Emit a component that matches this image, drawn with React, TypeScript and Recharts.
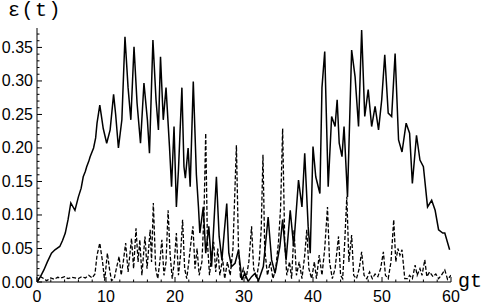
import React from 'react';
import { LineChart, Line, XAxis, YAxis } from 'recharts';

// solid curve: time / value
const solidT = [
  0, 0.5, 1.0, 1.5, 2.1, 2.6, 3.3, 3.7, 4.1, 4.5,
  4.9, 5.5, 6.0, 6.4, 6.7, 7.0, 7.2, 7.5, 7.7, 8.2,
  8.5, 8.7, 9.1, 9.3, 9.6, 10.1, 10.6, 11.1, 11.4, 11.8,
  12.3, 12.75, 13.2, 13.6, 14.06, 14.5, 15.0, 15.5, 16.0, 16.3,
  16.8, 17.25, 17.6, 17.9, 18.3, 18.7, 19.2, 19.5, 19.86, 20.2,
  20.5, 21.0, 21.3, 21.5, 21.9, 22.2, 22.65, 23.1, 23.4, 23.6,
  24.1, 24.45, 24.9, 25.3, 25.6, 26.0, 26.4, 26.8, 27.1, 27.5,
  27.8, 28.2, 28.7, 29.2, 29.7, 30.1, 30.6, 31.1, 31.6, 32.1,
  32.8, 33.5, 34.0, 34.5, 35.2, 35.6, 36.1, 36.7, 37.2, 37.9,
  38.4, 38.8, 39.3, 39.6, 40.0, 40.4, 41.0, 41.3, 41.7, 42.2,
  42.7, 43.2, 43.5, 43.8, 44.2, 44.5, 45.0, 45.6, 46.1, 46.6,
  47.05, 47.5, 48.0, 48.5, 49.0, 49.5, 49.96, 50.4, 50.9, 51.4,
  51.9, 52.4, 52.9, 53.5, 54.0, 54.4, 55.0, 55.5, 56.0, 56.6,
  57.2, 57.7, 58.2, 58.8, 59.1, 59.8,
];
const solidV = [
  0, 0.008, 0.018, 0.03, 0.043, 0.048, 0.053, 0.062, 0.073, 0.093,
  0.118, 0.107, 0.127, 0.14, 0.157, 0.165, 0.172, 0.18, 0.187, 0.2,
  0.215, 0.237, 0.264, 0.25, 0.229, 0.207, 0.227, 0.28, 0.25, 0.2,
  0.242, 0.366, 0.29, 0.242, 0.351, 0.267, 0.207, 0.297, 0.242, 0.192,
  0.361, 0.272, 0.227, 0.336, 0.242, 0.29, 0.202, 0.142, 0.232, 0.112,
  0.167, 0.29, 0.172, 0.155, 0.2, 0.142, 0.299, 0.16, 0.112, 0.073,
  0.112, 0.043, 0.083, 0.023, 0.08, 0.157, 0.068, 0.033, 0.07, 0.117,
  0.043, 0.023, 0.028, 0.048, 0.003, 0.013, 0.001, 0.008, 0.013, 0.002,
  0.023, 0.097, 0.033, 0.013, 0.053, 0.093, 0.033, 0.107, 0.053, 0.152,
  0.112, 0.192, 0.083, 0.043, 0.202, 0.157, 0.132, 0.29, 0.344, 0.142,
  0.247, 0.232, 0.272, 0.207, 0.187, 0.232, 0.127, 0.346, 0.306, 0.232,
  0.376, 0.247, 0.287, 0.232, 0.262, 0.227, 0.272, 0.339, 0.252, 0.247,
  0.341, 0.212, 0.194, 0.237, 0.222, 0.147, 0.219, 0.182, 0.172, 0.112,
  0.122, 0.107, 0.078, 0.073, 0.073, 0.048,
];

// dashed curve: time / value
const dashT = [
  0, 0.5, 1.0, 1.4, 2.0, 2.5, 3.0, 3.5, 4.0, 4.5,
  5.0, 5.5, 6.0, 6.5, 7.0, 7.5, 8.0, 8.4, 8.7, 9.1,
  9.5, 9.8, 10.2, 10.5, 10.8, 11.2, 11.5, 11.9, 12.2, 12.5,
  12.85, 13.2, 13.7, 14.0, 14.35, 14.65, 14.9, 15.2, 15.65, 15.95,
  16.4, 16.6, 16.86, 17.2, 17.5, 17.8, 18.1, 18.4, 18.7, 19.0,
  19.3, 19.6, 19.9, 20.2, 20.5, 20.8, 21.1, 21.4, 21.7, 22.0,
  22.3, 22.6, 22.9, 23.2, 23.5, 23.9, 24.2, 24.45, 24.7, 25.0,
  25.3, 25.6, 25.9, 26.2, 26.5, 26.9, 27.2, 27.6, 28.0, 28.4,
  28.9, 29.2, 29.5, 29.9, 30.3, 30.7, 31.1, 31.4, 31.8, 32.2,
  32.5, 32.75, 33.0, 33.4, 33.8, 34.2, 34.6, 35.0, 35.3, 35.6,
  35.9, 36.2, 36.6, 36.9, 37.25, 37.6, 38.0, 38.4, 38.8, 39.1,
  39.4, 39.8, 40.2, 40.5, 40.9, 41.3, 41.7, 42.1, 42.4, 42.8,
  43.2, 43.7, 44.0, 44.3, 44.6, 44.9, 45.2, 45.6, 45.9, 46.3,
  46.7, 47.05, 47.4, 47.8, 48.2, 48.6, 49.0, 49.4, 49.8, 50.2,
  50.5, 50.9, 51.3, 51.7, 52.0, 52.3, 52.6, 52.9, 53.3, 53.7,
  54.0, 54.4, 54.8, 55.1, 55.5, 55.8, 56.2, 56.5, 56.9, 57.4,
  57.8, 58.2, 58.6, 59.1, 59.5, 60,
];
const dashV = [
  0, 0.008, 0.005, 0.002, 0.006, 0.004, 0.007, 0.006, 0.008, 0.005,
  0.007, 0.006, 0.005, 0.008, 0.006, 0.01, 0.006, 0.012, 0.04, 0.058,
  0.03, 0.002, 0.043, 0.02, 0.002, 0.005, 0.02, 0.038, 0.01, 0.03,
  0.058, 0.015, 0.065, 0.02, 0.08, 0.03, 0.063, 0.01, 0.068, 0.02,
  0.078, 0.03, 0.118, 0.02, 0.005, 0.03, 0.063, 0.01, 0.03, 0.107,
  0.04, 0.005, 0.03, 0.073, 0.01, 0.04, 0.093, 0.02, 0.005, 0.03,
  0.058, 0.083, 0.02, 0.05, 0.01, 0.03, 0.1, 0.222, 0.06, 0.01,
  0.04, 0.06, 0.015, 0.05, 0.01, 0.035, 0.005, 0.03, 0.01, 0.05,
  0.204, 0.05, 0.005, 0.02, 0.005, 0.03, 0.083, 0.02, 0.005, 0.03,
  0.08, 0.19, 0.05, 0.01, 0.03, 0.005, 0.02, 0.06, 0.11, 0.229,
  0.06, 0.01, 0.03, 0.005, 0.078, 0.01, 0.03, 0.005, 0.04, 0.078,
  0.02, 0.005, 0.03, 0.005, 0.04, 0.01, 0.05, 0.112, 0.03, 0.005,
  0.02, 0.068, 0.01, 0.005, 0.06, 0.127, 0.03, 0.07, 0.01, 0.005,
  0.02, 0.045, 0.01, 0.005, 0.015, 0.005, 0.012, 0.008, 0.02, 0.045,
  0.01, 0.005, 0.03, 0.093, 0.03, 0.05, 0.04, 0.048, 0.005, 0.005,
  0.01, 0.005, 0.025, 0.01, 0.02, 0.01, 0.033, 0.008, 0.015, 0.008,
  0.012, 0.005, 0.01, 0.018, 0.004, 0.01,
];

const xTicks = [0, 2, 4, 6, 8, 10, 12, 14, 16, 18, 20, 22, 24, 26, 28, 30, 32, 34, 36, 38, 40, 42, 44, 46, 48, 50, 52, 54, 56, 58, 60];
const yTicks = [
  0, 0.01, 0.02, 0.03, 0.04, 0.05, 0.06, 0.07, 0.08, 0.09,
  0.1, 0.11, 0.12, 0.13, 0.14, 0.15, 0.16, 0.17, 0.18, 0.19,
  0.2, 0.21, 0.22, 0.23, 0.24, 0.25, 0.26, 0.27, 0.28, 0.29,
  0.3, 0.31, 0.32, 0.33, 0.34, 0.35, 0.36, 0.37,
];

const solidData = solidT.map((t, i) => ({ t, v: solidV[i] }));
const dashData = dashT.map((t, i) => ({ t, v: dashV[i] }));

const FONT = '"Liberation Sans", Arial, sans-serif';
const MONO = '"Liberation Mono", "Courier New", monospace';

const isMajor = (v: number, step: number) => Math.abs(v / step - Math.round(v / step)) < 1e-6;

const YTick = (props: any) => {
  const { x, y, payload } = props;
  const axisX = x + 4;
  const major = isMajor(payload.value, 0.05);
  return (
    <g>
      <line x1={axisX} x2={axisX + (major ? 5 : 2.5)} y1={y} y2={y} stroke="#000" strokeWidth={1} />
      {major && (
        <text x={x} y={y} dy={5.5} textAnchor="end" fontFamily={FONT} fontSize={16} fill="#000">
          {payload.value.toFixed(2)}
        </text>
      )}
    </g>
  );
};

const XTick = (props: any) => {
  const { x, y, payload } = props;
  const axisY = y - 8;
  const major = isMajor(payload.value, 10);
  return (
    <g>
      <line x1={x} x2={x} y1={axisY} y2={axisY - (major ? 5 : 2.5)} stroke="#000" strokeWidth={1} />
      {major && (
        <text x={x} y={y} dy={12} textAnchor="middle" fontFamily={FONT} fontSize={16} fill="#000">
          {payload.value}
        </text>
      )}
    </g>
  );
};

const App = () => {
  return (
    <div style={{ position: 'absolute', left: 0, top: 0, width: 487, height: 306, background: '#fff' }}>
      <LineChart width={487} height={306} margin={{ top: 28, right: 36, bottom: 23, left: 36 }}>
        <XAxis
          type="number"
          dataKey="t"
          domain={[0, 60]}
          ticks={xTicks}
          interval={0}
          height={1}
          tickSize={0}
          tickMargin={8}
          tick={<XTick />}
          axisLine={{ stroke: '#000', strokeWidth: 1 }}
          allowDataOverflow
          label={({ viewBox }: any) => (
            <text x={viewBox.x + viewBox.width + 7} y={viewBox.y + 5} fontFamily={MONO} fontSize={20} fill="#000">
              gt
            </text>
          )}
        />
        <YAxis
          type="number"
          domain={[0, 0.379]}
          ticks={yTicks}
          interval={0}
          width={1}
          tickSize={0}
          tickMargin={4}
          tick={<YTick />}
          axisLine={{ stroke: '#000', strokeWidth: 1 }}
          allowDataOverflow
          label={({ viewBox }: any) => (
            <text x={viewBox.x - 28} y={viewBox.y - 12} fontFamily={MONO} fontSize={20} letterSpacing={1.5} fill="#000">
              ε(t)
            </text>
          )}
        />
        <Line
          data={solidData}
          dataKey="v"
          type="linear"
          stroke="#000"
          strokeWidth={1.5}
          dot={false}
          isAnimationActive={false}
        />
        <Line
          data={dashData}
          dataKey="v"
          type="linear"
          stroke="#000"
          strokeWidth={1.3}
          strokeDasharray="4 2"
          dot={false}
          isAnimationActive={false}
        />
      </LineChart>
    </div>
  );
};

export default App;
